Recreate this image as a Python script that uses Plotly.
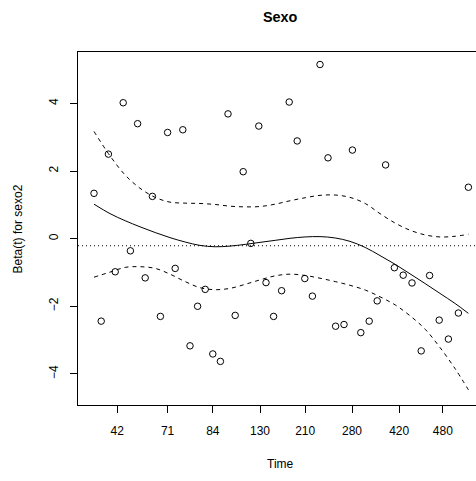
import plotly.graph_objects as go

# Scaled Schoenfeld residuals for sexo2 against transformed time
resid_t = [0.040, 0.058, 0.076, 0.093, 0.113, 0.131, 0.149, 0.168, 0.186, 0.206,
           0.224, 0.243, 0.262, 0.280, 0.299, 0.318, 0.337, 0.356, 0.375, 0.393,
           0.413, 0.432, 0.452, 0.470, 0.489, 0.509, 0.528, 0.548, 0.567, 0.586,
           0.605, 0.625, 0.644, 0.665, 0.686, 0.707, 0.728, 0.748, 0.769, 0.791,
           0.813, 0.835, 0.858, 0.879, 0.903, 0.926, 0.951, 0.976]
resid_beta = [1.34, -2.44, 2.50, -0.98, 4.02, -0.36, 3.40, -1.16, 1.25, -2.30,
              3.14, -0.88, 3.22, -3.17, -2.00, -1.50, -3.41, -3.63, 3.69, -2.27,
              1.98, -0.14, 3.33, -1.30, -2.30, -1.54, 4.04, 2.89, -1.18, -1.70,
              5.15, 2.39, -2.59, -2.54, 2.62, -2.78, -2.44, -1.84, 2.18, -0.86,
              -1.08, -1.31, -3.32, -1.09, -2.41, -2.97, -2.20, 1.52]

# Smoothed beta(t) with +/- 2 SE band
smooth_t = [0.040, 0.080, 0.118, 0.155, 0.193, 0.230, 0.268, 0.305, 0.343, 0.380,
            0.418, 0.455, 0.493, 0.530, 0.568, 0.605, 0.643, 0.680, 0.718, 0.755,
            0.793, 0.830, 0.868, 0.905, 0.943, 0.976]
beta_fit = [1.02, 0.74, 0.53, 0.35, 0.18, 0.03, -0.10, -0.20, -0.24, -0.22,
            -0.17, -0.11, -0.05, 0.01, 0.05, 0.06, 0.02, -0.08, -0.26, -0.50,
            -0.76, -1.04, -1.33, -1.62, -1.92, -2.21]
beta_upper = [3.17, 2.45, 1.88, 1.49, 1.22, 1.08, 1.05, 1.04, 1.01, 0.96,
              0.94, 0.95, 1.02, 1.12, 1.21, 1.28, 1.29, 1.22, 1.04, 0.74,
              0.46, 0.25, 0.11, 0.05, 0.07, 0.13]
beta_lower = [-1.14, -0.99, -0.85, -0.83, -0.88, -1.05, -1.27, -1.45, -1.51, -1.47,
              -1.35, -1.22, -1.10, -1.05, -1.09, -1.17, -1.27, -1.38, -1.52, -1.72,
              -1.96, -2.28, -2.68, -3.22, -3.85, -4.47]

# Cox model coefficient (horizontal reference)
coef_sexo2 = -0.21

# Time axis: transformed positions and their labels
tick_pos = [0.098, 0.224, 0.337, 0.455, 0.568, 0.685, 0.803, 0.912]
tick_text = ["42", "71", "84", "130", "210", "280", "420", "480"]
ytick_vals = [-4, -2, 0, 2, 4]
ytick_text = ["\u22124", "\u22122", "0", "2", "4"]

FONT = "Liberation Sans, Arial, Helvetica, sans-serif"

fig = go.Figure()

fig.add_trace(go.Scatter(
    x=resid_t, y=resid_beta, mode="markers",
    marker=dict(symbol="circle-open", size=6.5, color="black", line=dict(width=1, color="black")),
    showlegend=False, hoverinfo="skip"))

fig.add_trace(go.Scatter(
    x=smooth_t, y=beta_fit, mode="lines",
    line=dict(color="black", width=1, shape="spline"),
    showlegend=False, hoverinfo="skip"))

for band in (beta_upper, beta_lower):
    fig.add_trace(go.Scatter(
        x=smooth_t, y=band, mode="lines",
        line=dict(color="black", width=1, dash="4px,4px", shape="spline"),
        showlegend=False, hoverinfo="skip"))

fig.add_trace(go.Scatter(
    x=[0, 1.0], y=[coef_sexo2, coef_sexo2], mode="lines",
    line=dict(color="black", width=1, dash="1px,3px"),
    showlegend=False, hoverinfo="skip"))

fig.update_layout(
    width=476, height=481,
    margin=dict(l=78, r=0, t=52, b=76),
    paper_bgcolor="white", plot_bgcolor="white",
    font=dict(family=FONT, size=12, color="black"),
    xaxis=dict(
        range=[0, 0.995], showgrid=False, zeroline=False,
        showline=True, mirror=True, linecolor="black", linewidth=1,
        tickmode="array", tickvals=tick_pos, ticktext=tick_text,
        ticks="outside", ticklen=7, tickwidth=1, tickcolor="black",
        tickfont=dict(family=FONT, size=12, color="black"),
        ticklabelstandoff=8,
    ),
    yaxis=dict(
        range=[-4.92, 5.52], showgrid=False, zeroline=False,
        showline=True, mirror=False, linecolor="black", linewidth=1,
        tickmode="array", tickvals=ytick_vals, ticktext=ytick_text,
        ticks="outside", ticklen=7, tickwidth=1, tickcolor="black",
        tickangle=-90,
        tickfont=dict(family=FONT, size=12, color="black"),
        ticklabelstandoff=7,
    ),
    annotations=[
        dict(text="<b>Sexo</b>", x=0.51, y=1.1, xref="paper", yref="paper",
             xanchor="center", yanchor="middle", showarrow=False,
             font=dict(family=FONT, size=14.4, color="black")),
        dict(text="Time", x=0.51, y=-0.167, xref="paper", yref="paper",
             xanchor="center", yanchor="middle", showarrow=False,
             font=dict(family=FONT, size=12, color="black")),
        dict(text="Beta(t) for sexo2", x=-0.151, y=0.5, xref="paper", yref="paper",
             xanchor="center", yanchor="middle", showarrow=False, textangle=-90,
             font=dict(family=FONT, size=12, color="black")),
    ],
)

fig.write_html("out.html")
